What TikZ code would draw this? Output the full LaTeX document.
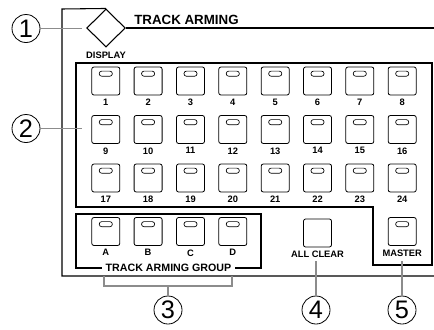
\documentclass[tikz,border=0pt]{standalone}
\usepackage{fontspec}
\setmainfont{Liberation Sans}
\usetikzlibrary{shapes.geometric}

\tikzset{
  btnplain/.style={draw, line width=0.6pt, rounded corners=1.6pt, minimum width=21pt, minimum height=21pt, inner sep=0pt},
  btn/.style={btnplain, path picture={\draw[line width=0.5pt, rounded corners=1.8pt] ([xshift=-4.9pt,yshift=-3.1pt]path picture bounding box.north) rectangle ([xshift=4.9pt,yshift=-6.9pt]path picture bounding box.north);}},
  lbl/.style={font=\fontsize{7}{8}\selectfont\bfseries, inner sep=1.5pt},
  every label/.style={lbl},
  label distance=1pt,
  frame/.style={line width=0.8pt},
  callout/.style={draw=black!45, line width=1pt},
  num/.style={circle, draw, line width=0.6pt, minimum size=21pt, inner sep=0pt, font=\fontsize{19}{19}\selectfont}
}

\begin{document}
\begin{tikzpicture}[x=0.75pt,y=0.75pt,yscale=-1,xscale=1]
\useasboundingbox (0,0) rectangle (434,329);

%Display key [id:disp]
\node [diamond, draw, line width=0.8pt, aspect=1, minimum width=29pt, minimum height=28.5pt, inner sep=0pt, label={[lbl, label distance=2pt]below:DISPLAY}] (disp) at (106,28) {};

%Outer frame
\coordinate (ftl) at (62,9);
\coordinate (fbl) at (62,276);
\coordinate (fbr) at (434,276);
\coordinate (ftr) at (434,28);
\draw [frame] (disp.north) -- (ftl) -- (fbl) -- (fbr) ;
\draw [frame] (disp.east) -- (ftr) ;

% Text Node
\node [anchor=base west, inner sep=0pt, font=\fontsize{10}{12}\selectfont\bfseries] (title) at (134,24) {TRACK ARMING};

%Inner panel
\draw [frame] (76,63) -- (432,63) -- (432,265) -- (373,265) -- (373,207) -- (76,207) -- cycle ;

%Group panel
\draw [frame] (76,214) rectangle (261,268) ;
\node [fill=white, inner xsep=3pt, inner ysep=1pt, font=\fontsize{8}{9}\selectfont\bfseries] (grp) at (168.5,267.5) {TRACK ARMING GROUP};

%Track keys
\node [btn, label=below:1]  (b1)  at (105.8,81) {};
\node [btn, label=below:2]  (b2)  at (148.1,81) {};
\node [btn, label=below:3]  (b3)  at (190.5,81) {};
\node [btn, label=below:4]  (b4)  at (232.8,81) {};
\node [btn, label=below:5]  (b5)  at (275.2,81) {};
\node [btn, label=below:6]  (b6)  at (317.5,81) {};
\node [btn, label=below:7]  (b7)  at (359.8,81) {};
\node [btn, label=below:8]  (b8)  at (402.2,81) {};

\node [btn, label=below:9]  (b9)  at (105.8,129.5) {};
\node [btn, label=below:10] (b10) at (148.1,129.5) {};
\node [btn, label=below:11] (b11) at (190.5,129.5) {};
\node [btn, label=below:12] (b12) at (232.8,129.5) {};
\node [btn, label=below:13] (b13) at (275.2,129.5) {};
\node [btn, label=below:14] (b14) at (317.5,129.5) {};
\node [btn, label=below:15] (b15) at (359.8,129.5) {};
\node [btn, label=below:16] (b16) at (402.2,129.5) {};

\node [btn, label=below:17] (b17) at (105.8,178) {};
\node [btn, label=below:18] (b18) at (148.1,178) {};
\node [btn, label=below:19] (b19) at (190.5,178) {};
\node [btn, label=below:20] (b20) at (232.8,178) {};
\node [btn, label=below:21] (b21) at (275.2,178) {};
\node [btn, label=below:22] (b22) at (317.5,178) {};
\node [btn, label=below:23] (b23) at (359.8,178) {};
\node [btn, label=below:24] (b24) at (402.2,178) {};

%Group keys
\node [btn, label=below:A] (ga) at (105.8,231.5) {};
\node [btn, label=below:B] (gb) at (148.1,231.5) {};
\node [btn, label=below:C] (gc) at (190.5,231.5) {};
\node [btn, label=below:D] (gd) at (232.8,231.5) {};

\node [btnplain, label={below:ALL CLEAR}] (clr) at (317.5,233) {};
\node [btn, label=below:MASTER] (mst) at (402.2,231.5) {};

%Callout numbers
\node [num] (c1) at (26,28.5) {1};
\node [num] (c2) at (26,128.5) {2};
\node [num] (c3) at (168,310) {3};
\node [num] (c4) at (316,310) {4};
\node [num] (c5) at (402,310) {5};

%Callout lines
\coordinate (e1) at (82,28.5);
\coordinate (e2) at (82,128.5);
\coordinate (e4) at (316,261);
\coordinate (e5) at (402,261);
\coordinate (k3) at (168,286);
\draw [callout] (c1.east) -- (e1) ;
\draw [callout] (c2.east) -- (e2) ;
\draw [callout] (104,276) -- (104,286) -- (232,286) -- (232,276) ;
\draw [callout] (k3) -- (c3.north) ;
\draw [callout] (e4) -- (c4.north) ;
\draw [callout] (e5) -- (c5.north) ;

\end{tikzpicture}
\end{document}
